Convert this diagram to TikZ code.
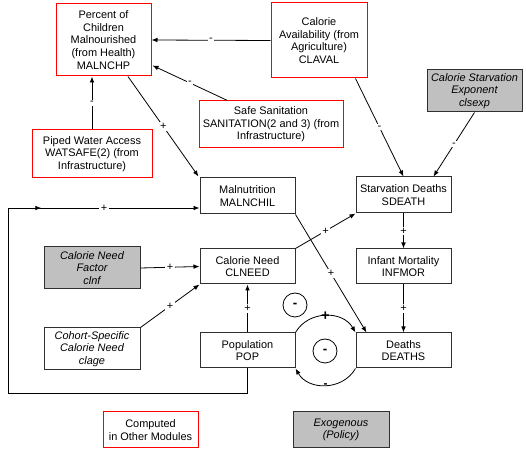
\documentclass[tikz,border=0pt]{standalone}
\usepackage{fontspec}
\setmainfont{Liberation Sans}
\usetikzlibrary{arrows.meta,calc,decorations.markings}
\definecolor{exgray}{HTML}{C0C0C0}
\definecolor{boxline}{HTML}{303030}
\begin{document}
\begin{tikzpicture}[x=0.75pt,y=-0.75pt,
  every node/.style={font=\fontsize{8.2}{9.5}\selectfont, align=center, inner sep=1pt},
  box/.style={draw=boxline, line width=0.75pt, fill=white},
  redbox/.style={draw=red, line width=0.75pt, fill=white},
  graybox/.style={draw=boxline, line width=0.75pt, fill=exgray, font=\fontsize{8.2}{9.5}\selectfont\itshape},
  arr/.style={-{Latex[length=4.5pt,width=3.5pt]}, line width=0.6pt},
  sgn/.style={fill=white, inner sep=1pt, font=\fontsize{8.2}{9.5}\selectfont},
  circ/.style={draw, circle, line width=0.6pt, minimum size=18pt, inner sep=0pt, font=\fontsize{10}{10}\selectfont\bfseries}
]
\useasboundingbox (0,0) rectangle (526,452);

\node[redbox, minimum width=71.25pt, minimum height=54pt] (malnchp) at (103.5,40) {Percent of\\Children\\Malnourished\\(from Health)\\MALNCHP};
\node[redbox, minimum width=72pt, minimum height=56.25pt] (claval) at (319,40.5) {Calorie\\Availability (from\\Agriculture)\\CLAVAL};
\node[graybox, minimum width=71.25pt, minimum height=31.5pt] (clsexp) at (474.5,91) {Calorie Starvation\\Exponent\\clsexp};
\node[redbox, minimum width=108pt, minimum height=35.25pt] (san) at (271,124.5) {Safe Sanitation\\SANITATION(2 and 3) (from\\Infrastructure)};
\node[redbox, minimum width=90pt, minimum height=36pt] (watsafe) at (92,154) {Piped Water Access\\WATSAFE(2) (from\\Infrastructure)};
\node[box, minimum width=71.25pt, minimum height=27pt] (malnchil) at (247.5,196) {Malnutrition\\MALNCHIL};
\node[box, minimum width=71.25pt, minimum height=27pt] (sdeath) at (403.5,195) {Starvation Deaths\\SDEATH};
\node[box, minimum width=71.25pt, minimum height=26.25pt] (clneed) at (247.5,266.5) {Calorie Need\\CLNEED};
\node[graybox, minimum width=72pt, minimum height=31.5pt] (clnf) at (92,268) {Calorie Need\\Factor\\clnf};
\node[box, minimum width=71.25pt, minimum height=26.25pt] (infmor) at (403.5,266.5) {Infant Mortality\\INFMOR};
\node[box, minimum width=72pt, minimum height=31.5pt, font=\fontsize{8.2}{9.5}\selectfont\itshape] (clage) at (92,349) {Cohort-Specific\\Calorie Need\\clage};
\node[box, minimum width=71.25pt, minimum height=26.25pt] (pop) at (247.5,350.5) {Population\\POP};
\node[box, minimum width=71.25pt, minimum height=26.25pt] (deaths) at (403.5,350.5) {Deaths\\DEATHS};
\node[redbox, minimum width=71.25pt, minimum height=27pt] (comp) at (150.5,430) {Computed\\in Other Modules};
\node[graybox, minimum width=72pt, minimum height=27pt] (exog) at (341,430) {Exogenous\\(Policy)};

\node[circ] (c1) at (295,305) {-};
\node[circ] (c2) at (325,351) {-};

% connectors
\draw[arr] (claval.west) -- node[sgn]{-} (malnchp.east);
\draw[arr] ($(san.north west)+(29,0)$) -- node[sgn]{-} ($(malnchp.south east)+(1,-11)$);
\draw[arr] (watsafe.north) -- node[sgn]{-} (watsafe.north |- malnchp.south);
\draw[arr] ($(malnchp.south)+(24.5,0)$) -- node[sgn]{+} ($(malnchil.north west)+(-1,-1)$);
\draw[arr] ($(claval.south east)+(-12,0)$) -- node[sgn]{-} (sdeath.north);
\draw[arr] (clsexp.south) -- node[sgn]{-} ($(sdeath.north)+(30,0)$);
\draw[arr] (sdeath.south) -- node[sgn]{+} (infmor.north);
\draw[arr] (infmor.south) -- node[sgn]{+} (deaths.north);
\draw[arr] (malnchil.south east) -- node[sgn]{+} ($(deaths.north west)+(11,0)$);
\draw[arr] (clneed.north east) -- node[sgn]{+} (sdeath.south west);
\draw[arr] (clnf.east) -- node[sgn]{+} (clneed.west);
\draw[arr] (clage.north east) -- node[sgn]{+} (clneed.south west);
\draw[arr] (pop.north) -- node[sgn]{+} (clneed.south);
\draw[arr, postaction={decorate}, decoration={markings, mark=at position 0.753 with {\arrow{Latex[length=4.5pt,width=3.5pt]}}}]
  (pop.south) -- ++(0,25) -- ++(-239,0) |- node[sgn, pos=0.75]{+} ($(malnchil.west)+(0,12)$);
\draw[arr] (pop.north east) to[out=60,in=120,looseness=1.1] node[pos=0.5, inner sep=0pt, font=\fontsize{11}{11}\selectfont\bfseries]{+} (deaths.north west);
\draw[arr] (deaths.south west) to[out=-120,in=-60,looseness=1.1] node[pos=0.5, inner sep=0pt, font=\fontsize{9}{9}\selectfont\bfseries]{-} (pop.south east);
\end{tikzpicture}
\end{document}
